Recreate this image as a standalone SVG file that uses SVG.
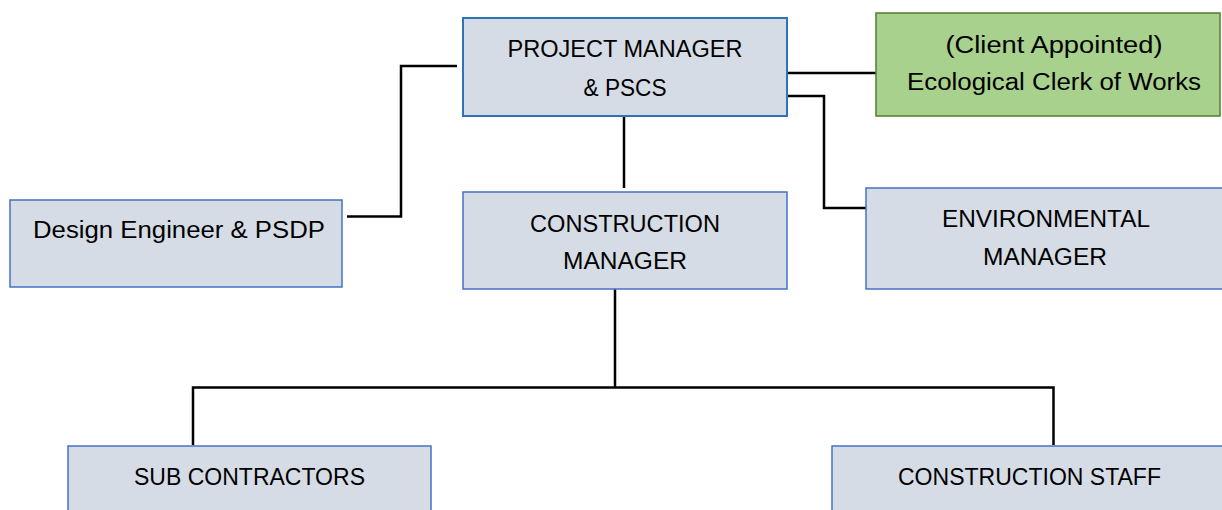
<svg xmlns="http://www.w3.org/2000/svg" width="1222" height="510" viewBox="0 0 1222 510">
<style>
.box{fill:#d6dce5;stroke:#4472c4;stroke-width:1.5}
.pm{stroke:#2e75b6;stroke-width:2}
.green{fill:#a9d18e;stroke:#507e32;stroke-width:1.5}
.t{font-family:"Liberation Sans",Arial,sans-serif;font-size:23px;fill:#000;text-anchor:middle}
.c{fill:none;stroke:#000;stroke-width:2.5}
</style>
<rect width="1222" height="510" fill="#fff"/>
<g id="connectors">
<path class="c" d="M624,116 V188"/>
<path class="c" d="M347,216.5 H401 V66 H457"/>
<path class="c" d="M787,73 H876"/>
<path class="c" d="M787,96 H824 V208 H866"/>
<path class="c" d="M615,289 V388"/>
<path class="c" d="M193,445 V387.5 H1053.5 V445"/>
</g>
<g id="project-manager">
<rect class="box pm" x="463" y="18" width="324" height="98"/>
<text class="t" x="625" y="57" textLength="235" lengthAdjust="spacingAndGlyphs">PROJECT MANAGER</text>
<text class="t" x="625" y="96" textLength="83" lengthAdjust="spacingAndGlyphs">&amp; PSCS</text>
</g>
<g id="ecological-clerk">
<rect class="green" x="876" y="13" width="344" height="103"/>
<text class="t" x="1054" y="53" textLength="217" lengthAdjust="spacingAndGlyphs">(Client Appointed)</text>
<text class="t" x="1054" y="90" textLength="294" lengthAdjust="spacingAndGlyphs">Ecological Clerk of Works</text>
</g>
<g id="design-engineer">
<rect class="box" x="10" y="200" width="332" height="87"/>
<text class="t" x="179" y="238" textLength="292" lengthAdjust="spacingAndGlyphs">Design Engineer &amp; PSDP</text>
</g>
<g id="construction-manager">
<rect class="box" x="463" y="192" width="324" height="97"/>
<text class="t" x="625" y="232" textLength="190" lengthAdjust="spacingAndGlyphs">CONSTRUCTION</text>
<text class="t" x="625" y="269" textLength="124" lengthAdjust="spacingAndGlyphs">MANAGER</text>
</g>
<g id="environmental-manager">
<rect class="box" x="866" y="188" width="362" height="101"/>
<text class="t" x="1046" y="227" textLength="208" lengthAdjust="spacingAndGlyphs">ENVIRONMENTAL</text>
<text class="t" x="1045" y="265" textLength="124" lengthAdjust="spacingAndGlyphs">MANAGER</text>
</g>
<g id="sub-contractors">
<rect class="box" x="68" y="446" width="363" height="72"/>
<text class="t" x="249.5" y="485" textLength="231" lengthAdjust="spacingAndGlyphs">SUB CONTRACTORS</text>
</g>
<g id="construction-staff">
<rect class="box" x="832" y="446" width="396" height="72"/>
<text class="t" x="1029.5" y="485" textLength="263" lengthAdjust="spacingAndGlyphs">CONSTRUCTION STAFF</text>
</g>
</svg>
